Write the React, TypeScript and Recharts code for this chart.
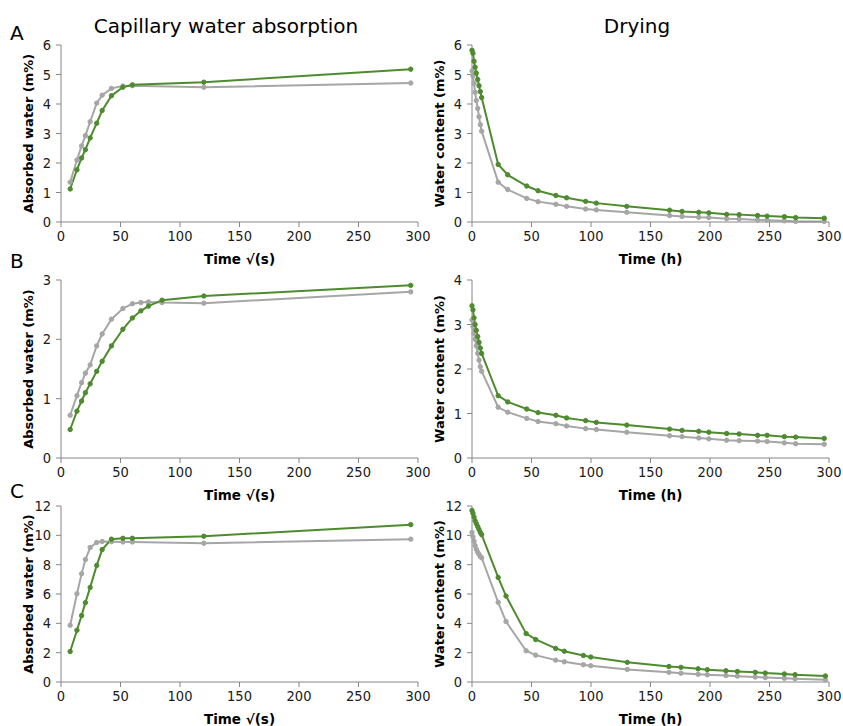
import React from "react";
import { LineChart, Line, XAxis, YAxis, Label } from "recharts";

// sqrt(s) sampling times of the absorption test
const absTime = [7.7, 13.4, 17.3, 20.5, 24.5, 30, 34.6, 42.4, 52, 60, 120, 293.9];
const absTimeB = [7.7, 13.4, 17.3, 20.5, 24.5, 30, 34.6, 42.4, 52, 60, 67.1, 73.5, 84.9, 120, 293.9];

const absAGreen = [1.12, 1.77, 2.17, 2.45, 2.85, 3.35, 3.78, 4.28, 4.57, 4.65, 4.74, 5.18];
const absAGray = [1.35, 2.1, 2.58, 2.93, 3.4, 4.03, 4.3, 4.53, 4.61, 4.62, 4.57, 4.71];
const absBGreen = [0.48, 0.79, 0.96, 1.1, 1.25, 1.46, 1.63, 1.89, 2.17, 2.36, 2.48, 2.56, 2.66, 2.73, 2.91];
const absBGray = [0.72, 1.05, 1.27, 1.43, 1.57, 1.89, 2.09, 2.34, 2.52, 2.6, 2.62, 2.63, 2.62, 2.61, 2.8];
const absCGreen = [2.08, 3.53, 4.53, 5.41, 6.45, 7.95, 9.03, 9.74, 9.8, 9.8, 9.94, 10.73];
const absCGray = [3.87, 6.02, 7.38, 8.35, 9.17, 9.51, 9.58, 9.57, 9.55, 9.55, 9.46, 9.74];

// hours of the drying test
const dryTime = [0, 0.8, 1.7, 2.6, 3.6, 4.8, 5.9, 7, 8.1, 22, 30, 46, 55.5, 70.5, 79.5, 95.5, 104.5, 130, 166, 176.5, 190.5, 199, 214, 224.5, 240, 248, 262.5, 272, 296];
const dryTimeC = [0, 0.8, 1.7, 2.6, 3.6, 4.8, 5.9, 7, 8.1, 22, 28.6, 45.5, 53.5, 70.3, 77.6, 93.6, 99.8, 130.5, 165.5, 175.6, 190, 197.7, 213.4, 223, 238, 246.5, 262.5, 271.5, 297];

const dryAGreen = [5.82, 5.72, 5.45, 5.25, 5.05, 4.83, 4.62, 4.42, 4.22, 1.95, 1.6, 1.22, 1.06, 0.9, 0.82, 0.7, 0.64, 0.53, 0.4, 0.36, 0.33, 0.31, 0.26, 0.25, 0.22, 0.2, 0.18, 0.15, 0.13];
const dryAGray = [5.12, 4.95, 4.7, 4.4, 4.12, 3.85, 3.57, 3.3, 3.08, 1.35, 1.1, 0.8, 0.69, 0.6, 0.53, 0.44, 0.41, 0.33, 0.22, 0.19, 0.16, 0.15, 0.11, 0.1, 0.07, 0.06, 0.04, 0.02, 0.02];
const dryBGreen = [3.42, 3.33, 3.15, 3.0, 2.87, 2.73, 2.6, 2.47, 2.35, 1.4, 1.26, 1.1, 1.02, 0.96, 0.9, 0.84, 0.8, 0.74, 0.65, 0.62, 0.6, 0.58, 0.55, 0.54, 0.51, 0.51, 0.48, 0.47, 0.44];
const dryBGray = [3.1, 2.95, 2.8, 2.67, 2.52, 2.35, 2.2, 2.05, 1.95, 1.14, 1.03, 0.89, 0.82, 0.77, 0.72, 0.66, 0.64, 0.58, 0.5, 0.48, 0.45, 0.43, 0.4, 0.39, 0.38, 0.37, 0.34, 0.32, 0.31];
const dryCGreen = [11.7, 11.5, 11.25, 11.0, 10.8, 10.6, 10.4, 10.2, 10.05, 7.13, 5.86, 3.3, 2.9, 2.29, 2.1, 1.81, 1.7, 1.34, 1.06, 1.0, 0.9, 0.84, 0.77, 0.72, 0.66, 0.61, 0.55, 0.5, 0.41];
const dryCGray = [10.2, 9.9, 9.6, 9.3, 9.05, 8.85, 8.7, 8.55, 8.47, 5.43, 4.12, 2.13, 1.83, 1.49, 1.38, 1.18, 1.11, 0.86, 0.66, 0.6, 0.53, 0.49, 0.44, 0.4, 0.34, 0.3, 0.25, 0.22, 0.15];

const xTicks = [0, 50, 100, 150, 200, 250, 300];
const yTicksA = [0, 1, 2, 3, 4, 5, 6];
const yTicksB = [0, 1, 2, 3];
const yTicksBDry = [0, 1, 2, 3, 4];
const yTicksC = [0, 2, 4, 6, 8, 10, 12];

const GREEN = "#4E8B2E";
const GRAY = "#A6A6A6";
const AXIS = "#868686";
const FONT = "'DejaVu Sans', Verdana, sans-serif";
const TICK_FONT = "'DejaVu Sans Condensed', 'DejaVu Sans', sans-serif";

const rows = (t: number[], green: number[], gray: number[]) =>
	t.map((x, i) => ({ t: x, green: green[i], gray: gray[i] }));

const XTitle = (text: string) => (props: any) => {
	const vb = props.viewBox;
	return (
		<text x={vb.x + vb.width / 2} y={vb.y + 42} textAnchor="middle" fontSize={13.5} fontWeight="bold" fill="#000" fontFamily={FONT}>
			{text}
		</text>
	);
};

const YTitle = (text: string, dx: number) => (props: any) => {
	const vb = props.viewBox;
	const x = vb.x + dx;
	const y = vb.y + vb.height / 2;
	return (
		<text x={x} y={y} transform={`rotate(-90, ${x}, ${y})`} textAnchor="middle" dominantBaseline="central" fontSize={13} fontWeight="bold" fill="#000" fontFamily={FONT}>
			{text}
		</text>
	);
};

type PanelProps = {
	left: number;
	top: number;
	width: number;
	height: number;
	right: number;
	yWidth: number;
	data: any[];
	yMax: number;
	yTicks: number[];
	xLabel: string;
	yLabel: string;
	yLabelX: number;
};

function Panel({ left, top, width, height, right, yWidth, data, yMax, yTicks, xLabel, yLabel, yLabelX }: PanelProps) {
	const tick = { fill: "#1a1a1a", fontSize: 14.5, fontFamily: TICK_FONT };
	return (
		<div style={{ position: "absolute", left, top }}>
			<LineChart width={width} height={height} data={data} margin={{ top: 10, right, bottom: 0, left: 0 }}>
				<XAxis
					dataKey="t"
					type="number"
					domain={[0, 300]}
					ticks={xTicks}
					height={45}
					stroke={AXIS}
					tickSize={5}
					tickMargin={4}
					tick={tick}
					interval={0}
				>
					<Label content={XTitle(xLabel)} />
				</XAxis>
				<YAxis
					type="number"
					domain={[0, yMax]}
					ticks={yTicks}
					width={yWidth}
					stroke={AXIS}
					tickSize={5}
					tickMargin={5}
					tick={tick}
					interval={0}
				>
					<Label content={YTitle(yLabel, yLabelX)} />
				</YAxis>
				<Line dataKey="gray" stroke={GRAY} strokeWidth={2} dot={{ r: 2.2, fill: GRAY, stroke: GRAY, strokeWidth: 1 }} isAnimationActive={false} />
				<Line dataKey="green" stroke={GREEN} strokeWidth={2} dot={{ r: 2.2, fill: GREEN, stroke: GREEN, strokeWidth: 1 }} isAnimationActive={false} />
			</LineChart>
		</div>
	);
}

const textStyle = (left: number, top: number): React.CSSProperties => ({
	position: "absolute",
	left,
	top,
	fontFamily: FONT,
	fontSize: 20,
	lineHeight: "20px",
	color: "#000",
	whiteSpace: "nowrap",
});

export default function App() {
	const absX = "Time \u221A(s)";
	const dryX = "Time (h)";
	const absY = "Absorbed water (m%)";
	const dryY = "Water content (m%)";
	const L = { left: 0, width: 436, right: 18, yWidth: 61, yLabelX: 28 };
	const R = { left: 420, width: 423, right: 14, yWidth: 52, yLabelX: 19 };
	return (
		<div style={{ position: "absolute", left: 0, top: 0, width: 843, height: 726, background: "#fff", overflow: "hidden" }}>
			<div style={textStyle(10, 23)}>A</div>
			<div style={textStyle(10, 251)}>B</div>
			<div style={textStyle(10, 481)}>C</div>
			<div style={{ ...textStyle(0, 16), width: 452, textAlign: "center" }}>Capillary water absorption</div>
			<div style={{ ...textStyle(537, 16), width: 200, textAlign: "center" }}>Drying</div>

			<Panel {...L} top={35} height={232} data={rows(absTime, absAGreen, absAGray)} yMax={6} yTicks={yTicksA} xLabel={absX} yLabel={absY} />
			<Panel {...R} top={35} height={232} data={rows(dryTime, dryAGreen, dryAGray)} yMax={6} yTicks={yTicksA} xLabel={dryX} yLabel={dryY} />

			<Panel {...L} top={270} height={233} data={rows(absTimeB, absBGreen, absBGray)} yMax={3} yTicks={yTicksB} xLabel={absX} yLabel={absY} />
			<Panel {...R} top={270} height={233} data={rows(dryTime, dryBGreen, dryBGray)} yMax={4} yTicks={yTicksBDry} xLabel={dryX} yLabel={dryY} />

			<Panel {...L} top={496} height={231} data={rows(absTime, absCGreen, absCGray)} yMax={12} yTicks={yTicksC} xLabel={absX} yLabel={absY} />
			<Panel {...R} top={496} height={231} data={rows(dryTimeC, dryCGreen, dryCGray)} yMax={12} yTicks={yTicksC} xLabel={dryX} yLabel={dryY} />
		</div>
	);
}
